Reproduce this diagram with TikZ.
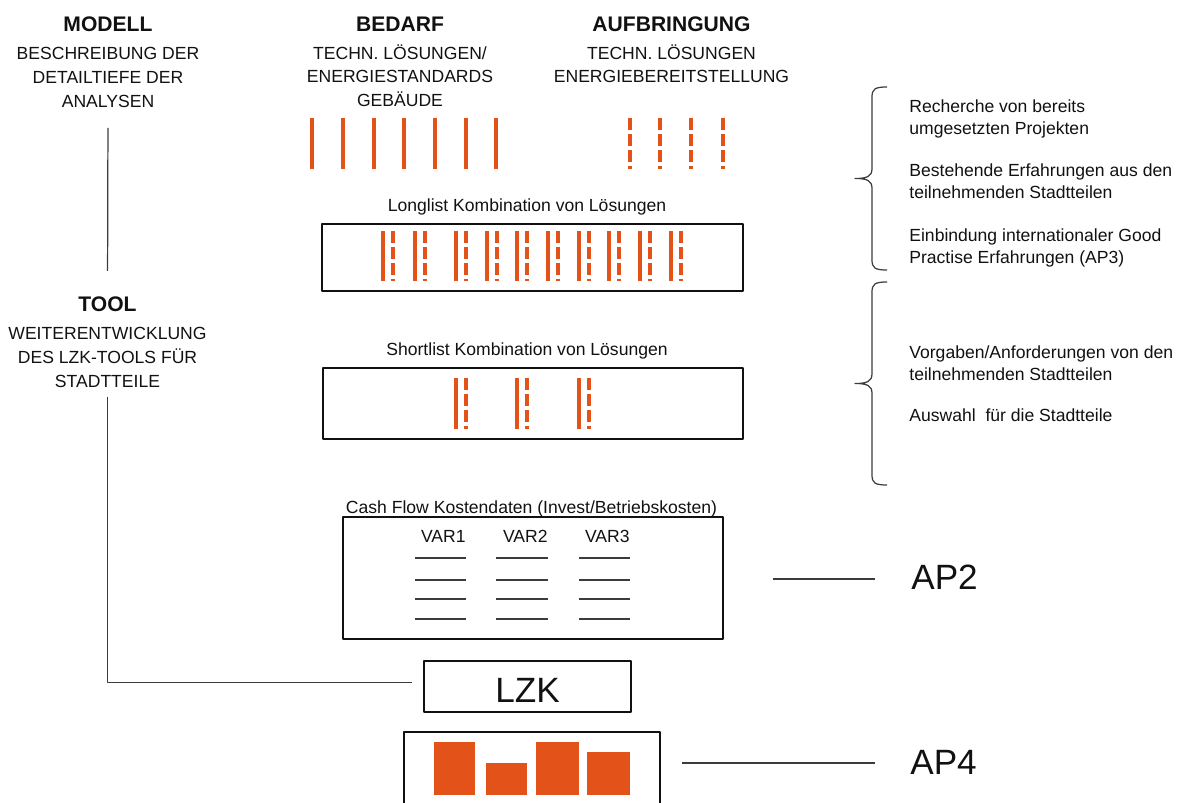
\documentclass[tikz,border=0pt]{standalone}
\usepackage{fontspec}
\setmainfont{Liberation Sans}
\usetikzlibrary{calc}
\definecolor{ink}{HTML}{111111}
\definecolor{lead}{HTML}{3C3C3C}
\definecolor{loesung}{HTML}{E35219}

\begin{document}
\begin{tikzpicture}[
  x=0.02cm, y=-0.02cm,
  line join=round,
  body/.style={draw=ink, line width=0.8pt},
  % dünne Linien: Verbindungen, Tabellenstriche
  leader/.style={draw=lead, line width=0.7pt},
  voll/.style={draw=loesung, line width=2.4pt},
  strich/.style={draw=loesung, line width=2.4pt, dash pattern=on 6.6pt off 2.6pt},
  kopf/.style={font=\fontsize{12}{14}\selectfont\bfseries, text=ink, inner sep=0pt, anchor=base},
  unter/.style={font=\fontsize{10}{13.6}\selectfont, text=ink, align=center, inner sep=0pt, anchor=north},
  notiz/.style={font=\fontsize{10}{12.5}\selectfont, text=ink, align=left, inner sep=0pt, anchor=north west},
  titel/.style={font=\fontsize{10}{12}\selectfont, text=ink, inner sep=0pt, anchor=base},
  gross/.style={font=\fontsize{20}{24}\selectfont, text=ink, inner sep=0pt},
]
\def\pxl{0.02cm}   % ein Bildpunkt
\useasboundingbox (0,0) rectangle (1189,803);

% --- Spaltenköpfe
\node[kopf] (modell) at (108,32) {MODELL};
\node[unter] (modelltxt) at (108,47) {BESCHREIBUNG DER\\DETAILTIEFE DER\\ANALYSEN};
\node[kopf] (bedarf) at (400,32) {BEDARF};
\node[unter] (bedarftxt) at (400,44) {TECHN. LÖSUNGEN/\\ENERGIESTANDARDS\\GEBÄUDE};
\node[kopf] (aufbr) at (671.5,32) {AUFBRINGUNG};
\node[unter] (aufbrtxt) at (671.5,44) {TECHN. LÖSUNGEN\\ENERGIEBEREITSTELLUNG};

% --- Tool links, Linie vom Modell herunter und weiter zum LZK
\node[kopf] (tooltitel) at (107.5,312) {TOOL};
\node[unter] (tooltxt) at (107.5,327) {WEITERENTWICKLUNG\\DES LZK-TOOLS FÜR\\STADTTEILE};
\node[body, gross, minimum width=207*\pxl, minimum height=51*\pxl, text height=31*\pxl] (lzk) at (527.5,686.5) {LZK};
\draw[leader, shorten <=20*\pxl, shorten >=26*\pxl] (modelltxt.south) -- (tooltitel.north);
\draw[leader, shorten >=11*\pxl] ([yshift=-9*\pxl]tooltxt.south) |- ([yshift=4*\pxl]lzk.west);

% --- Einzellösungen: Bedarf durchgezogen, Aufbringung gestrichelt
\foreach \x in {312,343,374,404,435,466,496} \draw[voll] (\x,118) -- (\x,169);
\foreach \x in {630,660,691,723} \draw[strich] (\x,118) -- (\x,169);

% --- Longlist
\node[titel] (longtitel) at (527,212) {Longlist Kombination von Lösungen};
\draw[body] (322,224) rectangle (743,291);
\foreach \x in {383,415,456,487,517,548,579,609,640,671} {
  \draw[voll] (\x,231) -- (\x,281);
  \draw[strich] (\x+10,231) -- (\x+10,281);
}

% --- Shortlist
\node[titel] (shorttitel) at (527,356) {Shortlist Kombination von Lösungen};
\draw[body] (323,368) rectangle (743,439);
\foreach \x in {456,517,579} {
  \draw[voll] (\x,378) -- (\x,429);
  \draw[strich] (\x+10,378) -- (\x+10,429);
}

% --- Kostendaten
\node[titel] (cashtitel) at (531.5,513) {Cash Flow Kostendaten (Invest/Betriebskosten)};
\draw[body] (343,517) rectangle (723,639);
\node[titel, anchor=base east] (var1) at (466,542) {VAR1};
\node[titel, anchor=base east] (var2) at (548,542) {VAR2};
\node[titel, anchor=base east] (var3) at (630,542) {VAR3};
\foreach \y in {558,580,599,619}
  \foreach \a/\b in {415/466,496/548,579/630} \draw[leader] (\a,\y) -- (\b,\y);

% --- Ergebnis (unten abgeschnitten)
\draw[body] (404,803) -- (404,732) -- (660,732) -- (660,803);
\foreach \a/\b/\t in {434/475/742,486/527/763,536/579/742,587/630/752}
  \fill[loesung] (\a,\t) rectangle (\b,795);

% --- Arbeitspakete rechts
\node[gross, anchor=base west] (ap2) at (911,589) {AP2};
\coordinate (ap2l) at (773,579);
\draw[leader, shorten >=36*\pxl] (ap2l) -- (ap2l -| ap2.west);
\node[gross, anchor=base west] (ap4) at (910,774) {AP4};
\coordinate (ap4l) at (682,763);
\draw[leader, shorten >=35*\pxl] (ap4l) -- (ap4l -| ap4.west);

% --- Geschweifte Klammern, Spitze nach links
\newcommand{\klammer}[2]{% #1 y oben, #2 y unten
  \pgfmathsetmacro{\ym}{(#1+#2)/2}
  \draw[leader] (887,#1) .. controls (875,#1) and (872,#1+2) .. (872,#1+10)
    -- (872,\ym-10) .. controls (872,\ym-2) and (867,\ym) .. (855,\ym)
    .. controls (867,\ym) and (872,\ym+2) .. (872,\ym+10)
    -- (872,#2-10) .. controls (872,#2-2) and (875,#2) .. (887,#2);
}
\klammer{87}{270}
\klammer{282}{485}

% --- Anmerkungen
\node[notiz] (n1) at (909,99) {Recherche von bereits\\umgesetzten Projekten};
\node[notiz] (n2) at (909,163) {Bestehende Erfahrungen aus den\\teilnehmenden Stadtteilen};
\node[notiz] (n3) at (909,228) {Einbindung internationaler Good\\Practise Erfahrungen (AP3)};
\node[notiz] (n4) at (909,345) {Vorgaben/Anforderungen von den\\teilnehmenden Stadtteilen};
\node[notiz] (n5) at (909,408) {Auswahl\ \ für die Stadtteile};
\end{tikzpicture}
\end{document}
